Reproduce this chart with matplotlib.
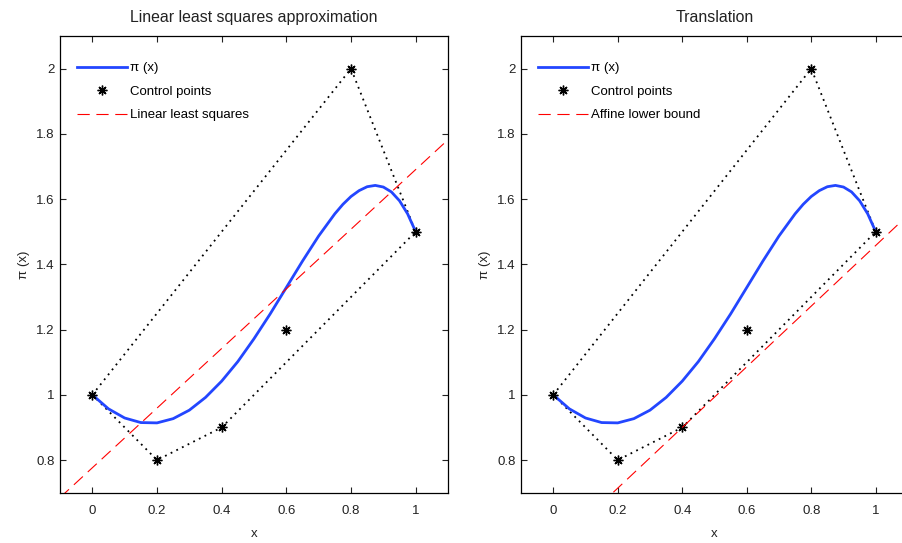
import matplotlib
matplotlib.use("Agg")
import matplotlib.pyplot as plt

plt.rcParams["font.family"] = ["Liberation Sans", "DejaVu Sans"]
plt.rcParams["font.size"] = 9.5

# control points of the polynomial
ctrl_x = [0.0, 0.2, 0.4, 0.6, 0.8, 1.0]
ctrl_y = [1.0, 0.8, 0.9, 1.2, 2.0, 1.5]

# convex hull of the control points (dotted outline)
hull_x = [0.0, 0.8, 1.0, 0.4, 0.2, 0.0]
hull_y = [1.0, 2.0, 1.5, 0.9, 0.8, 1.0]

# pi(x)
curve_x = [0.0, 0.05, 0.1, 0.15, 0.2, 0.25, 0.3, 0.35, 0.4, 0.45, 0.5, 0.55,
           0.6, 0.65, 0.7, 0.75, 0.775, 0.8, 0.825, 0.85, 0.875, 0.9, 0.925,
           0.95, 0.975, 1.0]
curve_y = [1.000, 0.957, 0.929, 0.915, 0.914, 0.927, 0.953, 0.992, 1.042,
           1.102, 1.172, 1.248, 1.329, 1.410, 1.487, 1.555, 1.584, 1.608,
           1.626, 1.638, 1.642, 1.637, 1.622, 1.595, 1.555, 1.500]

# red dashed lines (end points)
lsq_x = [-0.1, 1.1]
lsq_y = [0.685, 1.782]
lower_x = [-0.1, 1.1]
lower_y = [0.435, 1.551]

titles = ["Linear least squares approximation", "Translation"]
red_labels = ["Linear least squares", "Affine lower bound"]
red_lines = [(lsq_x, lsq_y), (lower_x, lower_y)]

W, H = 902, 543
fig = plt.figure(figsize=(W / 100, H / 100), dpi=100)
boxes = [[60 / W, (H - 492.7) / H, 388 / W, 456.7 / H],
         [521 / W, (H - 492.7) / H, 387 / W, 456.7 / H]]

for box, title, rlab, (rx, ry) in zip(boxes, titles, red_labels, red_lines):
    ax = fig.add_axes(box)
    ax.plot(hull_x, hull_y, color="black", lw=1.3, ls=(0, (1, 2.5)))
    h1, = ax.plot(curve_x, curve_y, color="#2346ff", lw=2.0, label="π (x)")
    h2, = ax.plot(ctrl_x, ctrl_y, ls="none", marker=(8, 2, 0), ms=7,
                  mew=1.0, color="black", label="Control points")
    h3, = ax.plot(rx, ry, color="red", lw=0.8, ls=(0, (11, 6)), label=rlab)
    ax.set_xlim(-0.1, 1.1)
    ax.set_ylim(0.7, 2.1)
    ax.set_xticks([0, 0.2, 0.4, 0.6, 0.8, 1])
    ax.set_xticklabels(["0", "0.2", "0.4", "0.6", "0.8", "1"])
    ax.set_yticks([0.8, 1.0, 1.2, 1.4, 1.6, 1.8, 2.0])
    ax.set_yticklabels(["0.8", "1", "1.2", "1.4", "1.6", "1.8", "2"])
    ax.tick_params(direction="in", top=True, right=True, length=4.5,
                   width=0.8, colors="#222222")
    ax.tick_params(axis="x", pad=9)
    ax.tick_params(axis="y", pad=4)
    for sp in ax.spines.values():
        sp.set_linewidth(0.9)
    ax.set_title(title, pad=10, color="#222222")
    ax.set_xlabel("x", color="#222222", labelpad=8)
    ax.set_ylabel("π (x)", color="#222222")
    ax.legend(handles=[h1, h2, h3], loc="upper left",
              bbox_to_anchor=(0.044, 0.943), frameon=False, borderpad=0,
              borderaxespad=0, handlelength=3.8, handletextpad=0.2,
              labelspacing=0.85)

fig.savefig("out.png", dpi=100)
